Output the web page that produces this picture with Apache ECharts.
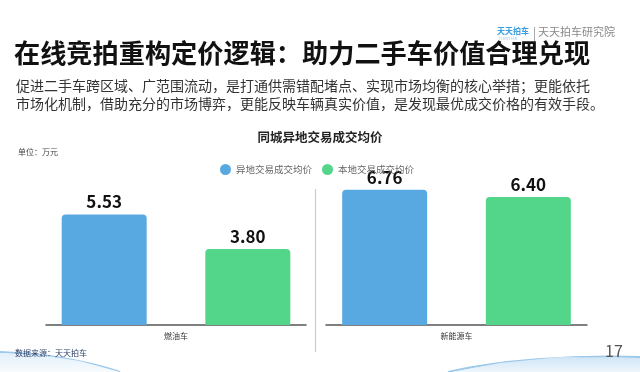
<!DOCTYPE html>
<html><head><meta charset="utf-8">
<script src="https://cdn.jsdelivr.net/npm/echarts@6/dist/echarts.min.js"></script>
<style>html,body{margin:0;padding:0;background:#fff}#c{width:640px;height:372px}</style>
</head><body><div id="c"></div>
<script>
const categories = ['燃油车', '新能源车'];
const seriesNames = ['异地交易成交均价', '本地交易成交均价'];
const remoteValues = [5.53, 6.76];
const localValues = [3.80, 6.40];

const FONT = '"Noto Sans CJK SC", "Noto Sans", sans-serif';
const BLUE = '#58a9e1';
const GREEN = '#53d58a';

const chart = echarts.init(document.getElementById('c'), null, {renderer: 'canvas'});

const grids = [
  {left: 46, width: 260, top: 175, height: 150},
  {left: 326, width: 261, top: 175, height: 150}
];
const xAxes = categories.map((c, i) => ({
  type: 'category', gridIndex: i, data: [c],
  axisLine: {lineStyle: {color: '#555', width: 1.5}},
  axisTick: {show: false},
  axisLabel: {fontSize: 8, color: '#333', margin: 7, fontFamily: FONT}
}));
const yAxes = categories.map((c, i) => ({
  type: 'value', gridIndex: i, min: 0, max: 7.5, show: false, splitLine: {show: false}
}));
const labelCfg = {show: true, position: 'top', distance: 4, fontSize: 17, fontWeight: 'bold', color: '#111', fontFamily: FONT, formatter: p => p.value.toFixed(2)};
const series = [];
categories.forEach((c, i) => {
  series.push({
    name: seriesNames[0], type: 'bar', xAxisIndex: i, yAxisIndex: i,
    data: [remoteValues[i]], barWidth: 85, barGap: '69%',
    itemStyle: {color: BLUE, borderRadius: [4, 4, 0, 0]}, label: labelCfg
  });
  series.push({
    name: seriesNames[1], type: 'bar', xAxisIndex: i, yAxisIndex: i,
    data: [localValues[i]], barWidth: 85, barGap: '69%',
    itemStyle: {color: GREEN, borderRadius: [4, 4, 0, 0]}, label: labelCfg
  });
});

chart.setOption({
  animation: false,
  backgroundColor: '#fff',
  legend: {
    left: 215, top: 159, icon: 'circle', itemWidth: 11, itemHeight: 11, itemGap: 10,
    data: seriesNames,
    textStyle: {fontSize: 9.5, color: '#666', fontFamily: FONT}
  },
  grid: grids,
  xAxis: xAxes,
  yAxis: yAxes,
  series: series,
  graphic: [
    {type: 'bezierCurve', silent: true, shape: {x1: 0, y1: 352, x2: 120, y2: 372, cpx1: 50, cpy1: 354, cpx2: 90, cpy2: 362},
      style: {stroke: '#9cc8ea', lineWidth: 2, fill: null}},
    {type: 'polygon', silent: true, shape: {points: [[0,353],[40,355],[80,361],[120,372],[0,372]]},
      style: {fill: new echarts.graphic.LinearGradient(0,0,0,1,[{offset:0,color:'#e3f0fa'},{offset:1,color:'#f7fbfe'}])}},
    {type: 'bezierCurve', silent: true, shape: {x1: 448, y1: 372, x2: 640, y2: 357, cpx1: 500, cpy1: 360, cpx2: 570, cpy2: 355},
      style: {stroke: '#9cc8ea', lineWidth: 2, fill: null}},
    {type: 'polygon', silent: true, shape: {points: [[452,372],[500,363],[560,357],[640,358],[640,372]]},
      style: {fill: new echarts.graphic.LinearGradient(0,0,0,1,[{offset:0,color:'#cfe5f6'},{offset:1,color:'#eef6fc'}])}},
    {type: 'line', silent: true, shape: {x1: 315.5, y1: 189, x2: 315.5, y2: 352}, style: {stroke: '#ccc', lineWidth: 1.2}},
    {type: 'text', left: 497, top: 27, style: {text: '天天拍车', font: 'bold 8px ' + FONT, fill: '#3a9ee0'}},
    {type: 'text', left: 499, top: 37, style: {text: 'T I A N T I A N', font: '3px ' + FONT, fill: '#7bbbe6'}},
    {type: 'line', shape: {x1: 534.5, y1: 27, x2: 534.5, y2: 41}, style: {stroke: '#aaa', lineWidth: 1}},
    {type: 'text', left: 538, top: 26, style: {text: '天天拍车研究院', font: '11px ' + FONT, fill: '#8a8a8a'}},
    {type: 'text', left: 14, top: 40, style: {text: '在线竞拍重构定价逻辑：助力二手车价值合理兑现', font: 'bold 26.2px ' + FONT, fill: '#111'}},
    {type: 'text', left: 16, top: 79, style: {text: '促进二手车跨区域、广范围流动，是打通供需错配堵点、实现市场均衡的核心举措；更能依托', font: '14px ' + FONT, fill: '#333'}},
    {type: 'text', left: 16, top: 97, style: {text: '市场化机制，借助充分的市场博弈，更能反映车辆真实价值，是发现最优成交价格的有效手段。', font: '14px ' + FONT, fill: '#333'}},
    {type: 'text', left: 'center', top: 131, style: {text: '同城异地交易成交均价', font: 'bold 12.5px ' + FONT, fill: '#222'}},
    {type: 'text', left: 18, top: 148, style: {text: '单位：万元', font: '8px ' + FONT, fill: '#444'}},
    {type: 'text', left: 15, top: 349, style: {text: '数据来源：天天拍车', font: '8px ' + FONT, fill: '#2a3e66'}},
    {type: 'text', left: 605, top: 343, style: {text: '17', font: '16px ' + FONT, fill: '#555'}}
  ]
});
</script>
</body></html>
